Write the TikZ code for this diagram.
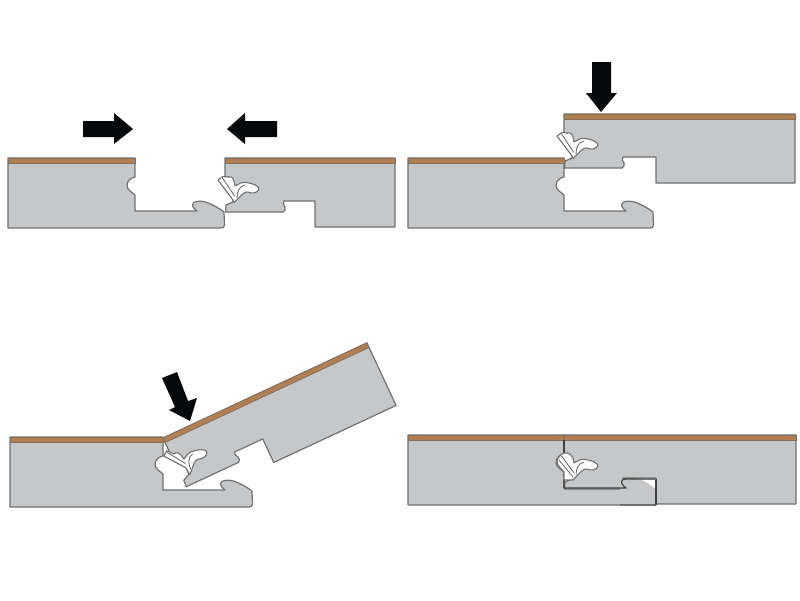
\documentclass[tikz,border=0pt]{standalone}
\definecolor{plankgrey}{HTML}{C6C7C9}
\definecolor{edgegrey}{HTML}{6F7072}
\definecolor{veneer}{HTML}{B27F52}
\definecolor{veneeredge}{HTML}{85705E}
\definecolor{arrowblack}{HTML}{050708}
\tikzset{
  plank/.style={fill=plankgrey,draw=edgegrey,line width=1.2pt,line join=round},
  topstrip/.style={fill=veneer,draw=veneeredge,line width=0.8pt},
  clipbody/.style={fill=white,draw=edgegrey,line width=1.1pt,line join=round},
  clipline/.style={draw=edgegrey,line width=0.9pt,line cap=round},
  seam/.style={draw=black!75,line width=1.2pt,line join=round},
  bigarrow/.style={fill=arrowblack,draw=none}
}
\newcommand{\leftboard}[3]{%
  \begin{scope}[shift={(#1,#2)}]
    \draw[plank] (-#3,0) -- (0,0) -- (0,19)
      .. controls (-4,19.5) and (-8,23) .. (-8,27.5)
      .. controls (-8,32) and (-3,34) .. (0,37) -- (0,53) -- (62,53)
      .. controls (58,50) and (56,47) .. (59,44.5)
      .. controls (62,42.5) and (68,43) .. (72,44.5)
      .. controls (78,47) and (84,50) .. (89,54) -- (89.5,67)
      .. controls (89.5,69) and (88,70) .. (86,70) -- (-#3,70) -- cycle;
    \draw[topstrip] (-#3,0) rectangle (0,5);
  \end{scope}}
\newcommand{\rightboard}[5]{%
  \begin{scope}[shift={(#1,#2)},rotate=#3]
    \draw[plank] (0,0) -- (#4,0) -- (#4,69) -- (#5,69) -- (#5,43) -- (59,43)
      .. controls (58,45) and (58,47) .. (60,49)
      .. controls (61,51) and (60,53) .. (58,54) -- (0.5,54) -- (1,47) -- (8,44)
      -- (9,30) -- (3,19) -- (0,19) -- cycle;
    \draw[topstrip] (0,0) rectangle (#4,5);
  \end{scope}}
\newcommand{\lockclip}[4]{%
  \begin{scope}[shift={(#1,#2)},rotate=#3]
    \draw[clipbody] (-7,{22+#4}) -- (-2,{18.5+#4}) -- (3,19)
      .. controls (7,18) and (9,20) .. (10,28)
      .. controls (14,26) and (17,23.5) .. (21,24.5)
      .. controls (27,25) and (34,28) .. (34,31)
      .. controls (33,35) and (27,36) .. (23,34)
      .. controls (19,33) and (16,38) .. (9,44.5) -- (8,{42+#4}) -- cycle;
    \draw[clipline] (-2.5,{20+#4}) -- (9.5,{38+#4});
    \draw[clipline] (20,27) .. controls (14,28) and (12,34) .. (12,40);
  \end{scope}}
\begin{document}
\begin{tikzpicture}[x=1pt,y=-1pt]
\useasboundingbox (0,0) rectangle (800,600);
% panel 1
\leftboard{135}{158}{127}
\rightboard{225}{158}{0}{170}{90}
\lockclip{225}{158}{0}{0}
\fill[bigarrow] (83,121) -- (114,121) -- (114,113) -- (133,129) -- (114,144) -- (114,137) -- (83,137) -- cycle;
\fill[bigarrow] (277,121) -- (245,121) -- (245,113) -- (227,129) -- (245,144) -- (245,137) -- (277,137) -- cycle;
% panel 2
\leftboard{564}{158}{156}
\rightboard{564}{114}{0}{231}{92}
\lockclip{564}{114}{0}{0}
\fill[bigarrow] (592,62) -- (611,62) -- (611,93) -- (617,93) -- (601,112) -- (586,93) -- (592,93) -- cycle;
% panel 3
\leftboard{163}{437}{153}
\rightboard{163}{438}{25}{225}{90}
\lockclip{163}{438}{25}{-5.5}
\fill[bigarrow] (162,378) -- (177,372) -- (188,401) -- (197,398) -- (190,421) -- (169,410) -- (175,407) -- cycle;
% panel 4
\leftboard{564}{435}{156}
\rightboard{564}{435}{0}{232}{92}
\begin{scope}[shift={(564,435)}]
  \fill[plankgrey] (56,44) -- (92,44) -- (92,70) -- (56,70) -- cycle;
  \fill[white] (78,45) -- (91.5,45) -- (91.5,54) .. controls (87,50) and (83,47) .. cycle;
  \draw[plank,fill=none] (56,70) -- (92,70);
  \draw[seam] (0,5) -- (0,19);
  \draw[clipbody] (0,18) .. controls (-4,20) and (-7,23) .. (-7,27)
    .. controls (-7,31) and (-2,34) .. (0,37) -- (0,45) -- (9,45)
    .. controls (16,38) and (19,33) .. (23,34)
    .. controls (27,36) and (33,35) .. (34,31)
    .. controls (34,28) and (27,25) .. (21,24.5)
    .. controls (17,23.5) and (14,26) .. (10,28)
    .. controls (9,20) and (5,17) .. (0,18) -- cycle;
  \draw[clipline] (-5,25) -- (9,42);
  \draw[clipline] (-2.5,21) -- (10,38);
  \draw[clipline] (20,27) .. controls (14,28) and (12,34) .. (12,40);
  \draw[seam] (0,45) -- (0,53) -- (62,53)
    .. controls (58,50) and (56,47) .. (59,44.5) -- (62,44) -- (78,44);
  \draw[seam] (92,44) -- (92,70);
  \draw[plank,fill=none] (78,44) -- (92,44);
\end{scope}
\end{tikzpicture}
\end{document}
